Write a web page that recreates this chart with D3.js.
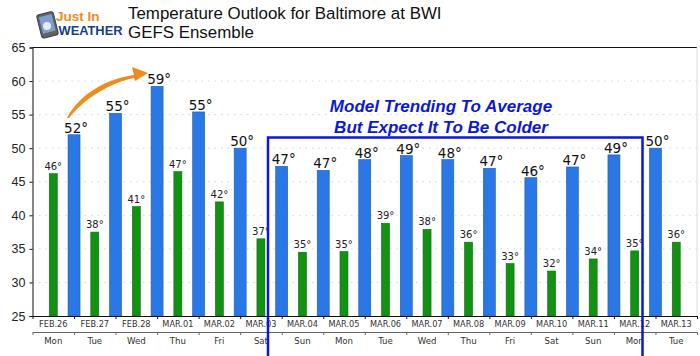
<!DOCTYPE html>
<html>
<head lang="en">
    <meta charset="UTF-8">
    <title>Temperature Outlook for Baltimore at BWI</title>
    <script src="https://cdn.jsdelivr.net/npm/d3@7/dist/d3.min.js"></script>
    <style>
        html, body { margin: 0; padding: 0; background: #fff; }
        svg { display: block; }
    </style>
</head>
<body>
<div id="tu1"></div>
<script>
    var dates = ['FEB.26','FEB.27','FEB.28','MAR.01','MAR.02','MAR.03','MAR.04','MAR.05','MAR.06','MAR.07','MAR.08','MAR.09','MAR.10','MAR.11','MAR.12','MAR.13'];
    var days = ['Mon','Tue','Wed','Thu','Fri','Sat','Sun','Mon','Tue','Wed','Thu','Fri','Sat','Sun','Mon','Tue'];
    // lows, one per day
    var lows = [46.2,37.5,41.3,46.5,42,36.5,34.5,34.6,38.8,37.9,36,32.8,31.7,33.5,34.7,36];
    // highs sit on the boundary between two days, so there is one less
    var highs = [52,55.2,59.2,55.4,50,47.3,46.7,48.3,48.9,48.3,47,45.6,47.2,49,50];
    var yticks = [25,30,35,40,45,50,55,60,65];
    var titleLines = ['Temperature Outlook for Baltimore at BWI','GEFS Ensemble'];
    var noteLines = ['Model Trending To Average','But Expect It To Be Colder'];

    var svgwidth = 700, svgheight = 356;
    var margin = {top: 47.5, right: 3, bottom: 40, left: 32.5};
    var bottom = svgheight - margin.bottom, right = svgwidth - margin.right;

    var svg = d3.select('#tu1').append('svg')
            .attr('width', svgwidth)
            .attr('height', svgheight);

    var x = d3.scaleBand().domain(dates).range([margin.left, right]);
    var xedge = d3.scaleLinear().domain([0, dates.length]).range([margin.left, right]);
    var y = d3.scaleLinear().domain([25, 65]).range([bottom, margin.top]);
    var sans = 'DejaVu Sans';

    // grid
    svg.append('g').selectAll('line')
            .data(yticks.slice(1, -1))
            .enter().append('line')
            .attr('x1', margin.left).attr('x2', right)
            .attr('y1', function (d) { return y(d); })
            .attr('y2', function (d) { return y(d); })
            .attr('stroke', '#d4d4d4')
            .attr('stroke-width', 1)
            .attr('stroke-dasharray', '1.5,5');

    // bars
    var lowW = 8, highW = 12;
    svg.append('g').selectAll('rect')
            .data(lows)
            .enter().append('rect')
            .attr('x', function (d, i) { return x(dates[i]) + x.bandwidth() / 2 - lowW / 2; })
            .attr('y', function (d) { return y(d); })
            .attr('width', lowW)
            .attr('height', function (d) { return bottom - y(d); })
            .attr('fill', '#139113')
            .attr('stroke', '#0d6f12')
            .attr('stroke-width', 0.6);
    svg.append('g').selectAll('rect')
            .data(highs)
            .enter().append('rect')
            .attr('x', function (d, i) { return xedge(i + 1) - highW / 2; })
            .attr('y', function (d) { return y(d); })
            .attr('width', highW)
            .attr('height', function (d) { return bottom - y(d); })
            .attr('fill', '#2a78e6')
            .attr('stroke', '#1e5cab')
            .attr('stroke-width', 0.6);

    // value labels
    svg.append('g').selectAll('text')
            .data(lows)
            .enter().append('text')
            .attr('x', function (d, i) { return x(dates[i]) + x.bandwidth() / 2; })
            .attr('y', function (d) { return y(d) - 4; })
            .attr('text-anchor', 'middle')
            .attr('font-family', sans).attr('font-size', 10)
            .attr('fill', '#222')
            .text(function (d) { return Math.round(d) + '°'; });
    svg.append('g').selectAll('text')
            .data(highs)
            .enter().append('text')
            .attr('x', function (d, i) { return xedge(i + 1) + 2; })
            .attr('y', function (d) { return y(d) - 2; })
            .attr('text-anchor', 'middle')
            .attr('font-family', sans).attr('font-size', 13.5)
            .attr('fill', '#111')
            .text(function (d) { return Math.round(d) + '°'; });

    // frame
    svg.append('line').attr('x1', margin.left).attr('x2', right)
            .attr('y1', margin.top).attr('y2', margin.top)
            .attr('stroke', '#111').attr('stroke-width', 1);
    svg.append('line').attr('x1', right).attr('x2', right)
            .attr('y1', margin.top).attr('y2', bottom)
            .attr('stroke', '#ddd').attr('stroke-width', 1);

    // axes
    var gy = svg.append('g')
            .attr('transform', 'translate(' + margin.left + ',0)')
            .call(d3.axisLeft(y).tickValues(yticks).tickSize(3).tickPadding(4));
    gy.selectAll('text').attr('font-family', 'Liberation Sans').attr('font-size', 12.5).attr('fill', '#222');
    gy.selectAll('line, path').attr('stroke', '#111').attr('stroke-width', 1);

    var gedge = svg.append('g')
            .attr('transform', 'translate(0,' + bottom + ')')
            .call(d3.axisBottom(xedge).tickValues(d3.range(dates.length + 1)).tickSize(3).tickSizeOuter(0).tickFormat(''));
    gedge.selectAll('line, path').attr('stroke', '#111').attr('stroke-width', 1);

    var gdate = svg.append('g')
            .attr('transform', 'translate(0,' + bottom + ')')
            .call(d3.axisBottom(x).tickSize(0).tickPadding(5));
    gdate.select('path').remove();
    gdate.selectAll('text').attr('font-family', sans).attr('font-size', 8.2).attr('fill', '#333');

    var gedge2 = svg.append('g')
            .attr('transform', 'translate(0,' + (bottom + 16) + ')')
            .call(d3.axisBottom(xedge).tickValues(d3.range(dates.length + 1)).tickSize(3).tickSizeOuter(0).tickFormat(''));
    gedge2.selectAll('line, path').attr('stroke', '#666').attr('stroke-width', 1);

    var gday = svg.append('g')
            .attr('transform', 'translate(0,' + (bottom + 16) + ')');
    gday.selectAll('text')
            .data(days)
            .enter().append('text')
            .attr('x', function (d, i) { return x(dates[i]) + x.bandwidth() / 2; })
            .attr('y', 12)
            .attr('text-anchor', 'middle')
            .attr('font-family', sans).attr('font-size', 8.6)
            .attr('fill', '#333')
            .text(function (d) { return d; });

    // title
    svg.append('g').selectAll('text')
            .data(titleLines)
            .enter().append('text')
            .attr('x', 128)
            .attr('y', function (d, i) { return 19 + i * 19; })
            .attr('font-family', 'Liberation Sans').attr('font-size', 16.9)
            .attr('fill', '#111')
            .text(function (d) { return d; });

    // blue box and note
    svg.append('path')
            .attr('d', 'M268,356V137.5H642.5V356')
            .attr('fill', 'none')
            .attr('stroke', '#0a18d8')
            .attr('stroke-width', 2.5);
    svg.append('g').selectAll('text')
            .data(noteLines)
            .enter().append('text')
            .attr('x', 441)
            .attr('y', function (d, i) { return 112 + i * 20.5; })
            .attr('text-anchor', 'middle')
            .attr('font-family', 'Liberation Sans').attr('font-size', 17)
            .attr('font-weight', 'bold').attr('font-style', 'italic')
            .attr('fill', '#0a18d8')
            .text(function (d) { return d; });

    // orange arrow
    svg.append('path')
            .attr('d', 'M67,118C79,95 105,79 134,75L132,67L148,73L135,81L134,78C110,83 85,98 69,118Z')
            .attr('fill', '#ef8a1d');

    // logo
    var logo = svg.append('g');
    logo.append('rect')
            .attr('x', 39).attr('y', 13).attr('width', 17).attr('height', 24).attr('rx', 2.5)
            .attr('transform', 'rotate(-14 47 25)')
            .attr('fill', '#5f6266').attr('stroke', '#3e3f42');
    logo.append('rect')
            .attr('x', 41).attr('y', 15.5).attr('width', 13).attr('height', 17)
            .attr('transform', 'rotate(-14 47 25)')
            .attr('fill', '#7e9ed0');
    logo.append('circle')
            .attr('cx', 47).attr('cy', 26).attr('r', 4).attr('fill', '#e7e9ef');
    logo.append('text')
            .attr('x', 56).attr('y', 20.5)
            .attr('font-family', 'Liberation Sans').attr('font-size', 13.5).attr('font-weight', 'bold')
            .attr('fill', '#ef8a1d')
            .text('Just In');
    logo.append('text')
            .attr('x', 58.5).attr('y', 35)
            .attr('font-family', 'Liberation Sans').attr('font-size', 12.5).attr('font-weight', 'bold')
            .attr('fill', '#153f8e')
            .attr('textLength', 64).attr('lengthAdjust', 'spacingAndGlyphs')
            .text('WEATHER');
</script>
</body>
</html>
